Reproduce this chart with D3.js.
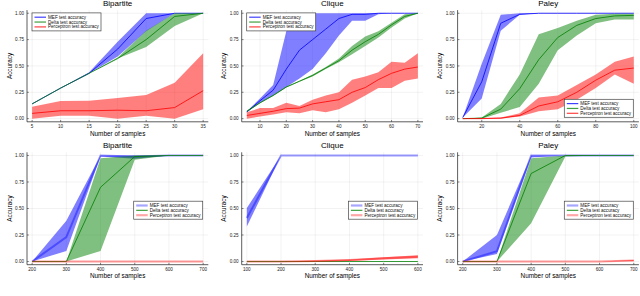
<!DOCTYPE html>
<html>
<head>
<meta charset="utf-8">
<script src="https://cdn.jsdelivr.net/npm/d3@7/dist/d3.min.js"></script>
<style>
  html, body { margin: 0; padding: 0; background: #fff; }
  svg { display: block; font-family: "Liberation Sans", Arial, sans-serif; }
</style>
</head>
<body>
<div id="chart"></div>
<script>
// Series names and tick values
const seriesNames = ["MEF test accuracy", "Delta test accuracy", "Perceptron test accuracy"];
const yTicks = [0, 0.25, 0.5, 0.75, 1];

// Bipartite, small sample sizes
const bipSmallX = [5, 10, 15, 20, 25, 30, 35];
const bipSmallMef = [0.14, 0.29, 0.43, 0.66, 0.95, 1, 1];
const bipSmallMefLo = [0.14, 0.29, 0.43, 0.59, 0.83, 1, 1];
const bipSmallMefHi = [0.14, 0.29, 0.44, 0.73, 1, 1, 1];
const bipSmallDelta = [0.14, 0.29, 0.43, 0.57, 0.75, 0.97, 1];
const bipSmallDeltaLo = [0.14, 0.29, 0.43, 0.57, 0.68, 0.88, 1];
const bipSmallDeltaHi = [0.14, 0.29, 0.43, 0.58, 0.835, 1, 1];
const bipSmallPerc = [0.05, 0.075, 0.075, 0.08, 0.075, 0.105, 0.265];
const bipSmallPercLo = [0, 0.028, 0.028, 0, 0.028, 0, 0.09];
const bipSmallPercHi = [0.113, 0.167, 0.17, 0.196, 0.224, 0.34, 0.62];
const bipSmallTicks = [5, 10, 15, 20, 25, 30, 35];

// Clique, small sample sizes
const cliSmallX = [5, 10, 15, 20, 25, 30, 35, 40, 45, 50, 55, 60, 65, 70];
const cliSmallMef = [0.063, 0.17, 0.27, 0.47, 0.65, 0.75, 0.85, 0.95, 0.99, 0.99, 1, 1, 1, 1];
const cliSmallMefLo = [0.06, 0.15, 0.22, 0.3, 0.38, 0.47, 0.62, 0.79, 0.93, 0.93, 0.99, 1, 1, 1];
const cliSmallMefHi = [0.07, 0.19, 0.32, 0.83, 1, 1, 1, 1, 1, 1, 1, 1, 1, 1];
const cliSmallDelta = [0.07, 0.15, 0.22, 0.3, 0.355, 0.41, 0.48, 0.55, 0.65, 0.73, 0.8, 0.89, 0.97, 1];
const cliSmallDeltaLo = [0.065, 0.145, 0.215, 0.295, 0.35, 0.4, 0.47, 0.535, 0.61, 0.69, 0.77, 0.865, 0.95, 1];
const cliSmallDeltaHi = [0.075, 0.155, 0.225, 0.305, 0.36, 0.42, 0.49, 0.57, 0.69, 0.78, 0.83, 0.91, 0.99, 1];
const cliSmallPerc = [0.03, 0.05, 0.07, 0.095, 0.1, 0.14, 0.16, 0.18, 0.25, 0.295, 0.37, 0.43, 0.47, 0.49];
const cliSmallPercLo = [0, 0.02, 0.04, 0.06, 0.05, 0.08, 0.06, 0.09, 0.15, 0.22, 0.29, 0.29, 0.36, 0.38];
const cliSmallPercHi = [0.06, 0.1, 0.1, 0.15, 0.12, 0.18, 0.22, 0.25, 0.37, 0.4, 0.44, 0.54, 0.53, 0.62];
const cliSmallTicks = [10, 20, 30, 40, 50, 60, 70];

// Paley, small sample sizes
const palSmallX = [10, 20, 30, 40, 50, 60, 70, 80, 90, 100];
const palSmallMef = [0.01, 0.35, 0.905, 0.99, 1, 1, 1, 1, 1, 1];
const palSmallMefLo = [0.01, 0.19, 0.835, 0.985, 1, 1, 1, 1, 1, 1];
const palSmallMefHi = [0.01, 0.52, 0.985, 1, 1, 1, 1, 1, 1, 1];
const palSmallDelta = [0, 0.005, 0.09, 0.285, 0.56, 0.77, 0.885, 0.95, 0.975, 0.98];
const palSmallDeltaLo = [0, 0, 0.057, 0.11, 0.33, 0.65, 0.79, 0.905, 0.94, 0.94];
const palSmallDeltaHi = [0, 0.01, 0.14, 0.42, 0.8, 0.86, 0.93, 0.985, 0.995, 0.995];
const palSmallPerc = [0, 0, 0.005, 0.03, 0.12, 0.16, 0.25, 0.365, 0.46, 0.48];
const palSmallPercLo = [0, 0, 0, 0.02, 0.07, 0.09, 0.18, 0.29, 0.42, 0.33];
const palSmallPercHi = [0, 0.005, 0.01, 0.05, 0.2, 0.22, 0.32, 0.42, 0.54, 0.59];
const palSmallTicks = [20, 40, 60, 80, 100];

// Bipartite, large sample sizes
const bipLargeX = [200, 300, 400, 500, 600, 700];
const bipLargeMef = [0, 0.23, 1, 0.99, 1, 1];
const bipLargeMefLo = [0, 0.1, 0.99, 0.97, 1, 1];
const bipLargeMefHi = [0, 0.385, 1, 1, 1, 1];
const bipLargeDelta = [0, 0, 0.7, 0.99, 1, 1];
const bipLargeDeltaLo = [0, 0, 0.1, 0.96, 1, 1];
const bipLargeDeltaHi = [0, 0, 0.975, 1, 1, 1];
const bipLargePerc = [0, 0, 0, 0, 0, 0];
const bipLargePercLo = [0, 0, 0, 0, 0, 0];
const bipLargePercHi = [0, 0, 0, 0, 0, 0];
const bipLargeTicks = [200, 300, 400, 500, 600, 700];

// Clique, large sample sizes
const cliLargeX = [100, 200, 300, 400, 500, 600];
const cliLargeMef = [0.41, 1, 1, 1, 1, 1];
const cliLargeMefLo = [0.33, 1, 1, 1, 1, 1];
const cliLargeMefHi = [0.505, 1, 1, 1, 1, 1];
const cliLargeDelta = [0, 0, 0, 0, 0, 0];
const cliLargeDeltaLo = [0, 0, 0, 0, 0, 0];
const cliLargeDeltaHi = [0, 0, 0, 0, 0, 0];
const cliLargePerc = [0, 0, 0.005, 0.015, 0.03, 0.045];
const cliLargePercLo = [0, 0, 0, 0.005, 0.02, 0.03];
const cliLargePercHi = [0, 0, 0.01, 0.02, 0.04, 0.06];
const cliLargeTicks = [100, 200, 300, 400, 500, 600];

// Paley, large sample sizes
const palLargeX = [200, 300, 400, 500, 600, 700];
const palLargeMef = [0, 0.097, 1, 1, 1, 1];
const palLargeMefLo = [0, 0.07, 0.98, 1, 1, 1];
const palLargeMefHi = [0, 0.25, 1, 1, 1, 1];
const palLargeDelta = [0, 0, 0.83, 1, 1, 1];
const palLargeDeltaLo = [0, 0, 0.36, 0.99, 1, 1];
const palLargeDeltaHi = [0, 0, 0.975, 1, 1, 1];
const palLargePerc = [0, 0, 0, 0, 0, 0.01];
const palLargePercLo = [0, 0, 0, 0, 0, 0.005];
const palLargePercHi = [0, 0, 0, 0, 0, 0.015];
const palLargeTicks = [200, 300, 400, 500, 600, 700];

const colors = ["#0000ff", "#008000", "#ff0000"];

const width = 640;
const height = 296;

// plot-area boxes for the 2x3 grid
const colLeft = [27, 241.7, 457.6];
const plotW = 181.3;
const rowTop = [10.1, 152.3];
const rowBottom = [121.8, 264.7];

function series(mean, lo, hi) {
  return [mean, lo, hi];
}

const panels = [
  { title: "Bipartite", col: 0, row: 0, x: bipSmallX, ticks: bipSmallTicks, legend: "topleft",
    data: [series(bipSmallMef, bipSmallMefLo, bipSmallMefHi), series(bipSmallDelta, bipSmallDeltaLo, bipSmallDeltaHi), series(bipSmallPerc, bipSmallPercLo, bipSmallPercHi)] },
  { title: "Clique", col: 1, row: 0, x: cliSmallX, ticks: cliSmallTicks, legend: "topleft",
    data: [series(cliSmallMef, cliSmallMefLo, cliSmallMefHi), series(cliSmallDelta, cliSmallDeltaLo, cliSmallDeltaHi), series(cliSmallPerc, cliSmallPercLo, cliSmallPercHi)] },
  { title: "Paley", col: 2, row: 0, x: palSmallX, ticks: palSmallTicks, legend: "bottomright",
    data: [series(palSmallMef, palSmallMefLo, palSmallMefHi), series(palSmallDelta, palSmallDeltaLo, palSmallDeltaHi), series(palSmallPerc, palSmallPercLo, palSmallPercHi)] },
  { title: "Bipartite", col: 0, row: 1, x: bipLargeX, ticks: bipLargeTicks, legend: "right",
    data: [series(bipLargeMef, bipLargeMefLo, bipLargeMefHi), series(bipLargeDelta, bipLargeDeltaLo, bipLargeDeltaHi), series(bipLargePerc, bipLargePercLo, bipLargePercHi)] },
  { title: "Clique", col: 1, row: 1, x: cliLargeX, ticks: cliLargeTicks, legend: "right",
    data: [series(cliLargeMef, cliLargeMefLo, cliLargeMefHi), series(cliLargeDelta, cliLargeDeltaLo, cliLargeDeltaHi), series(cliLargePerc, cliLargePercLo, cliLargePercHi)] },
  { title: "Paley", col: 2, row: 1, x: palLargeX, ticks: palLargeTicks, legend: "right",
    data: [series(palLargeMef, palLargeMefLo, palLargeMefHi), series(palLargeDelta, palLargeDeltaLo, palLargeDeltaHi), series(palLargePerc, palLargePercLo, palLargePercHi)] }
];

const svg = d3.select("#chart")
  .append("svg")
  .attr("width", width)
  .attr("height", height);

// Plots.jl style: 3% padding on each side of the data range
function widen(lo, hi) {
  const pad = 0.03 * (hi - lo);
  return [lo - pad, hi + pad];
}

panels.forEach(p => {
  const left = colLeft[p.col];
  const right = left + plotW;
  const top = rowTop[p.row];
  const bottom = rowBottom[p.row];

  const x = d3.scaleLinear().domain(widen(d3.min(p.x), d3.max(p.x))).range([left, right]);
  const y = d3.scaleLinear().domain(widen(0, 1)).range([bottom, top]);

  const g = svg.append("g");

  // grid
  g.selectAll(".gx").data(p.ticks).join("line")
    .attr("x1", d => x(d)).attr("x2", d => x(d))
    .attr("y1", top).attr("y2", bottom)
    .attr("stroke", "#000").attr("stroke-opacity", 0.1).attr("stroke-width", 0.5);
  g.selectAll(".gy").data(yTicks).join("line")
    .attr("x1", left).attr("x2", right)
    .attr("y1", d => y(d)).attr("y2", d => y(d))
    .attr("stroke", "#000").attr("stroke-opacity", 0.1).attr("stroke-width", 0.5);

  // ribbons and mean lines
  p.data.forEach((s, i) => {
    const [mean, lo, hi] = s;
    const pts = p.x.map((xv, k) => ({ x: xv, m: mean[k], lo: lo[k], hi: hi[k] }));

    g.append("path")
      .datum(pts)
      .attr("d", d3.area().x(d => x(d.x)).y0(d => y(d.lo)).y1(d => y(d.hi)))
      .attr("fill", colors[i])
      .attr("fill-opacity", 0.5);

    const faint = p.row === 1 && i !== 1;
    g.append("path")
      .datum(pts)
      .attr("d", d3.line().x(d => x(d.x)).y(d => y(d.m)))
      .attr("fill", "none")
      .attr("stroke", colors[i])
      .attr("stroke-width", faint ? 2 : 1)
      .attr("stroke-opacity", faint ? 0.4 : 0.8);
  });

  // axes
  g.append("line").attr("x1", left).attr("x2", left).attr("y1", top).attr("y2", bottom)
    .attr("stroke", "#333").attr("stroke-width", 0.8);
  g.append("line").attr("x1", left).attr("x2", right).attr("y1", bottom).attr("y2", bottom)
    .attr("stroke", "#333").attr("stroke-width", 0.8);

  g.selectAll(".tx").data(p.ticks).join("line")
    .attr("x1", d => x(d)).attr("x2", d => x(d))
    .attr("y1", bottom).attr("y2", bottom - 1.8)
    .attr("stroke", "#333").attr("stroke-width", 0.6);
  g.selectAll(".ty").data(yTicks).join("line")
    .attr("x1", left).attr("x2", left + 1.8)
    .attr("y1", d => y(d)).attr("y2", d => y(d))
    .attr("stroke", "#333").attr("stroke-width", 0.6);

  g.selectAll(".lx").data(p.ticks).join("text")
    .attr("x", d => x(d)).attr("y", bottom + 5.8)
    .attr("text-anchor", "middle")
    .attr("font-size", 4.6).attr("fill", "#222")
    .text(d => d);
  g.selectAll(".ly").data(yTicks).join("text")
    .attr("x", left - 3).attr("y", d => y(d) + 1.6)
    .attr("text-anchor", "end")
    .attr("font-size", 4.6).attr("fill", "#222")
    .text(d => d3.format(".2f")(d));

  // titles
  g.append("text")
    .attr("x", (left + right) / 2).attr("y", top - 4)
    .attr("text-anchor", "middle").attr("font-size", 8)
    .text(p.title);
  g.append("text")
    .attr("x", (left + right) / 2).attr("y", bottom + 13.7)
    .attr("text-anchor", "middle").attr("font-size", 6.4)
    .text("Number of samples");
  g.append("text")
    .attr("transform", `translate(${left - 15.5},${(top + bottom) / 2}) rotate(-90)`)
    .attr("text-anchor", "middle").attr("font-size", 6.4)
    .text("Accuracy");

  // legend
  const lw = 69, lh = 18;
  let lx, ly;
  if (p.legend === "topleft") { lx = left + 5; ly = top + 2.8; }
  else if (p.legend === "bottomright") { lx = right - 5.6 - lw; ly = bottom - 4.5 - lh; }
  else { lx = right - 5.6 - lw; ly = (top + bottom) / 2 - 7.3; }

  const lg = g.append("g").attr("transform", `translate(${lx},${ly})`);
  lg.append("rect").attr("width", lw).attr("height", lh)
    .attr("fill", "#fff").attr("stroke", "#444").attr("stroke-width", 0.7);
  seriesNames.forEach((name, i) => {
    const yy = 4.3 + i * 4.85;
    const faint = p.row === 1 && i !== 1;
    lg.append("line")
      .attr("x1", 2.5).attr("x2", 14).attr("y1", yy).attr("y2", yy)
      .attr("stroke", colors[i])
      .attr("stroke-width", faint ? 2.2 : 1.2)
      .attr("stroke-opacity", faint ? 0.35 : 0.75);
    lg.append("text")
      .attr("x", 16).attr("y", yy + 1.6)
      .attr("font-size", 4.6).attr("fill", "#111")
      .text(name);
  });
});
</script>
</body>
</html>
